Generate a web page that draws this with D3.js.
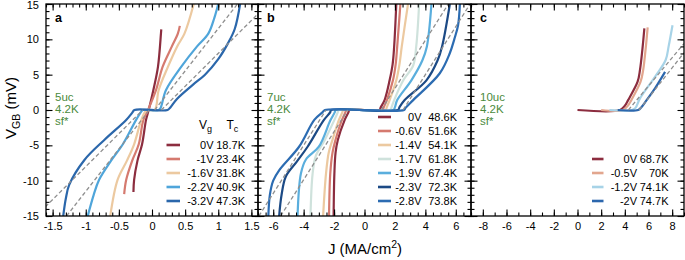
<!DOCTYPE html>
<html>
<head>
<meta charset="utf-8">
<script src="https://cdn.jsdelivr.net/npm/d3@7"></script>
<style>
  body { margin: 0; background: #fff; }
  text { font-family: "Liberation Sans", Arial, sans-serif; }
</style>
</head>
<body>
<svg id="chart" width="685" height="260"></svg>
<script>
// ---- data: J (MA/cm^2), V_GB (mV) ----
var yTicks = [-15, -10, -5, 0, 5, 10, 15];

// panel a, 5uc
var aTicks = [-1.5, -1, -0.5, 0, 0.5, 1, 1.5];
var aVg = ["0V", "-1V", "-1.6V", "-2.2V", "-3.2V"];
var aTc = ["18.7K", "23.4K", "31.8K", "40.9K", "47.3K"];
var aCurves = [
  [[-0.28,-11.6],[-0.27,-9.9],[-0.22,-7.2],[-0.15,-4.85],[-0.09,-1.4],[-0.05,0],[0.02,2.8],[0.09,6.1],[0.135,10.8],[0.14,11.4]],
  [[-0.42,-11.9],[-0.39,-9.9],[-0.3,-7.2],[-0.2,-4.85],[-0.13,-1.4],[-0.06,0],[0.06,2.8],[0.16,6.1],[0.3,9],[0.39,10.8],[0.42,11.9]],
  [[-0.63,-15],[-0.52,-9.9],[-0.38,-7.2],[-0.27,-4.85],[-0.16,-1.4],[-0.08,0],[0.04,0],[0.10,2.8],[0.24,6.1],[0.38,9],[0.49,10.8],[0.63,15]],
  [[-0.97,-15],[-0.88,-12],[-0.80,-9.9],[-0.62,-7.2],[-0.44,-4.85],[-0.24,-1.4],[-0.16,-0.2],[-0.14,0],[0.10,0],[0.13,0.3],[0.21,2.8],[0.44,6.1],[0.68,9],[0.85,10.8],[0.94,13],[1.0,15]],
  [[-1.34,-15],[-1.3,-12.5],[-1.25,-10.6],[-1.02,-7.07],[-0.72,-4.24],[-0.39,-1.41],[-0.3,-0.4],[-0.265,0],[0.235,0],[0.28,0.4],[0.38,1.6],[0.62,3.6],[0.8,5],[1.0,7.2],[1.15,9.5],[1.25,11.5],[1.33,15]]
];
var aFits = [
  [[-1.75,-15],[-0.14,0]], [[0.14,0],[1.75,15]],
  [[-1.29,-15],[-0.04,0]], [[0.04,0],[1.29,15]]
];

// panel b, 7uc
var bTicks = [-6, -4, -2, 0, 2, 4, 6];
var bVg = ["0V", "-0.6V", "-1.4V", "-1.7V", "-1.9V", "-2.3V", "-2.8V"];
var bTc = ["48.6K", "51.6K", "54.1K", "61.8K", "67.4K", "72.3K", "73.8K"];
var bCurves = [
  [[-2.03,-15],[-1.98,-9],[-1.9,-6],[-1.75,-4.2],[-1.32,-1.5],[-1.05,-0.3],[-1.0,0],[1.0,0],[1.05,0.3],[1.32,1.4],[1.65,4.2],[1.85,6.5],[1.95,9],[2.09,15]],
  [[-2.33,-15],[-2.25,-9],[-2.1,-6],[-1.9,-4.2],[-1.5,-1.5],[-1.25,-0.3],[-1.2,0],[1.2,0],[1.25,0.3],[1.47,1.4],[1.87,4.2],[2.05,6.5],[2.15,9],[2.36,15]],
  [[-2.72,-15],[-2.53,-9],[-2.35,-6],[-2.1,-4.2],[-1.7,-1.5],[-1.45,-0.3],[-1.4,0],[1.4,0],[1.45,0.3],[1.65,1.4],[2.09,4.2],[2.3,6.5],[2.45,9],[2.86,15]],
  [[-3.55,-15],[-3.41,-9],[-3.2,-6.5],[-2.6,-4.2],[-2.0,-1.5],[-1.75,-0.3],[-1.7,0],[1.7,0],[1.78,0.4],[1.95,1.4],[2.55,4.2],[3.2,6.3],[3.4,9],[3.59,15]],
  [[-4.4,-15],[-4.18,-9],[-3.85,-7],[-3.0,-5.2],[-2.25,-1.5],[-1.95,-0.3],[-1.9,0],[1.9,0],[2.0,0.4],[2.15,1.4],[3.08,4.2],[3.8,7],[4.1,9],[4.4,15]],
  [[-5.61,-15],[-5.45,-12],[-5.17,-9.4],[-4.45,-7.3],[-3.74,-5.2],[-2.7,-1.5],[-2.25,-0.3],[-2.2,0],[2.2,0],[2.3,0.4],[2.64,1.4],[4.07,4.2],[4.8,7],[5.1,9],[5.61,15]],
  [[-6.32,-15],[-6.22,-12],[-6.0,-10],[-5.6,-8.5],[-4.3,-5.2],[-3.3,-1.4],[-2.75,-0.3],[-2.6,0],[2.6,0],[2.7,0.3],[3.2,1.4],[4.95,5.2],[5.6,8],[5.9,10],[6.15,12],[6.27,15]]
];
var bFits = [
  [[-6.94,-15],[-2.53,0]], [[2.53,0],[6.94,15]],
  [[-5.51,-15],[-1.1,0]], [[1.1,0],[5.51,15]]
];

// panel c, 10uc
var cTicks = [-8, -6, -4, -2, 0, 2, 4, 6, 8];
var cVg = ["0V", "-0.5V", "-1.2V", "-2V"];
var cTc = ["68.7K", "70K", "74.1K", "74.7K"];
var cCurves = [
  [[0,0],[3.6,0],[4.0,0.6],[4.28,1.4],[5.08,4.0],[5.28,5.66],[5.48,8.5],[5.65,11.55]],
  [[2.0,0],[3.85,0],[4.25,0.6],[4.55,1.4],[5.33,4.0],[5.55,5.66],[5.75,8.5],[5.93,11.7]],
  [[2.7,0],[4.6,0],[4.9,0.3],[5.28,1.65],[6.55,4.7],[7.45,7.07],[7.7,9],[8.03,12.0]],
  [[3.4,0],[5.13,0],[5.4,0.4],[5.84,1.4],[6.55,3.07],[7.4,5.4]]
];
var cFits = [
  [[4.3,0],[9.0,9.4]],
  [[5.2,0],[9.0,8.1]]
];

var aColors = ["#8c2d3f", "#d57a6f", "#ecc9a0", "#4fa5da", "#2b67ab"];
var bColors = ["#8c2d3f", "#d57a6f", "#ecc9a0", "#cfe2dc", "#5aaedd", "#1c4a85", "#2c6cb2"];
var cColors = ["#8c2d3f", "#e2a68e", "#a7d3e7", "#2c67ad"];

// ---- layout ----
var panels = [
  {id: "a", left: 46, right: 258, dom: [-1.6, 1.6], ticks: aTicks, minor: 0.1,
   curves: aCurves, colors: aColors, vg: aVg, tc: aTc, fits: aFits, tag: "5uc",
   leg: {x0: 166.5, x1: 180, vgR: 213.5, tcR: 245, top: 145}, header: true},
  {id: "b", left: 258, right: 471, dom: [-7, 7], ticks: bTicks, minor: 0.5,
   curves: bCurves, colors: bColors, vg: bVg, tc: bTc, fits: bFits, tag: "7uc",
   leg: {x0: 378, x1: 391, vgR: 421.5, tcR: 457, top: 117}},
  {id: "c", left: 471, right: 684, dom: [-9, 9], ticks: cTicks, minor: 1,
   curves: cCurves, colors: cColors, vg: cVg, tc: cTc, fits: cFits, tag: "10uc",
   leg: {x0: 592, x1: 603.5, vgR: 637, tcR: 668.5, top: 159}}
];

var svg = d3.select("#chart");
var yTop = 4, yBot = 216;
var y = d3.scaleLinear().domain([-15, 15]).range([yBot, yTop]);
var yMinor = d3.range(-15, 16, 1);

panels.forEach(function(p) {
  var x = d3.scaleLinear().domain(p.dom).range([p.left, p.right]);
  var xMinor = d3.range(Math.round(p.dom[0] / p.minor), Math.round(p.dom[1] / p.minor) + 1)
    .map(function(k) { return Math.round(k * p.minor * 100) / 100; });

  svg.append("clipPath").attr("id", "clip-" + p.id)
    .append("rect").attr("x", p.left).attr("y", yTop)
    .attr("width", p.right - p.left).attr("height", yBot - yTop);

  var plot = svg.append("g").attr("clip-path", "url(#clip-" + p.id + ")");
  var line = d3.line()
    .x(function(d) { return x(d[0]); })
    .y(function(d) { return y(d[1]); })
    .curve(d3.curveCatmullRom.alpha(0.5));

  plot.selectAll("path.curve").data(p.curves).enter().append("path")
    .attr("class", "curve")
    .attr("d", line)
    .attr("fill", "none")
    .attr("stroke", function(d, i) { return p.colors[i]; })
    .attr("stroke-width", 2.2)
    .attr("stroke-linejoin", "round");

  plot.selectAll("path.fit").data(p.fits).enter().append("path")
    .attr("class", "fit")
    .attr("d", d3.line().x(function(d) { return x(d[0]); }).y(function(d) { return y(d[1]); }))
    .attr("fill", "none")
    .attr("stroke", "#8f8f8f")
    .attr("stroke-width", 1.3)
    .attr("stroke-dasharray", "4,2.5");

  // ticks on all four sides, pointing inward
  function ax(gen, tr) {
    var g = svg.append("g").attr("transform", tr).call(gen);
    g.select(".domain").remove();
    g.selectAll("line").attr("stroke", "#000").attr("stroke-width", 1.1);
    g.selectAll("text").attr("font-size", 11).attr("fill", "#000");
    return g;
  }
  ax(d3.axisBottom(x).tickValues(p.ticks).tickSize(-6.5).tickPadding(6)
      .tickFormat(function(d) { return String(d); }), "translate(0," + yBot + ")");
  ax(d3.axisBottom(x).tickValues(xMinor).tickSize(-3.5).tickFormat(""), "translate(0," + yBot + ")");
  ax(d3.axisTop(x).tickValues(p.ticks).tickSize(-6.5).tickFormat(""), "translate(0," + yTop + ")");
  ax(d3.axisTop(x).tickValues(xMinor).tickSize(-3.5).tickFormat(""), "translate(0," + yTop + ")");
  var yl = d3.axisLeft(y).tickValues(yTicks).tickSize(-6.5).tickPadding(7);
  if (p.id === "a") yl.tickFormat(function(d) { return String(d); });
  else yl.tickFormat("");
  var gl = ax(yl, "translate(" + p.left + ",0)");
  gl.selectAll("text").filter(function(d) { return d === 15; }).attr("dy", "0.45em");
  ax(d3.axisLeft(y).tickValues(yMinor).tickSize(-3.5).tickFormat(""), "translate(" + p.left + ",0)");
  ax(d3.axisRight(y).tickValues(yTicks).tickSize(-6.5).tickFormat(""), "translate(" + p.right + ",0)");
  ax(d3.axisRight(y).tickValues(yMinor).tickSize(-3.5).tickFormat(""), "translate(" + p.right + ",0)");

  svg.append("rect")
    .attr("x", p.left).attr("y", yTop)
    .attr("width", p.right - p.left).attr("height", yBot - yTop)
    .attr("fill", "none").attr("stroke", "#000").attr("stroke-width", 1.3);

  // panel letter and sample label
  svg.append("text").attr("x", p.left + 9).attr("y", 22)
    .attr("font-size", 12.5).attr("font-weight", "bold").text(p.id);
  var tag = svg.append("text").attr("fill", "#4a8a3c").attr("font-size", 11.5);
  [p.tag, "4.2K", "sf*"].forEach(function(t, i) {
    tag.append("tspan").attr("x", p.left + 9).attr("y", 101 + i * 12).text(t);
  });

  // legend
  var L = p.leg, rowH = 14;
  if (p.header) {
    var h = svg.append("text").attr("font-size", 12).attr("y", L.top - 16);
    h.append("tspan").attr("x", 199).text("V");
    h.append("tspan").attr("dy", 3).attr("font-size", 9).text("g");
    h.append("tspan").attr("x", 226.5).attr("dy", -3).text("T");
    h.append("tspan").attr("dy", 3).attr("font-size", 9).text("c");
  }
  var rows = svg.append("g").selectAll("g").data(p.vg).enter().append("g")
    .attr("transform", function(d, i) { return "translate(0," + (L.top + i * rowH) + ")"; });
  rows.append("line").attr("x1", L.x0).attr("x2", L.x1)
    .attr("stroke", function(d, i) { return p.colors[i]; }).attr("stroke-width", 2.6);
  rows.append("text").attr("x", L.vgR).attr("y", 4).attr("text-anchor", "end")
    .attr("font-size", 11).text(function(d) { return d; });
  rows.append("text").attr("x", L.tcR).attr("y", 4).attr("text-anchor", "end")
    .attr("font-size", 11).text(function(d, i) { return p.tc[i]; });
});

// axis titles
var yt = svg.append("text").attr("transform", "translate(16,108) rotate(-90)")
  .attr("text-anchor", "middle").attr("font-size", 15);
yt.append("tspan").text("V");
yt.append("tspan").attr("dy", 4).attr("font-size", 10.5).text("GB");
yt.append("tspan").attr("dy", -4).text(" (mV)");

var xt = svg.append("text").attr("x", 365).attr("y", 254)
  .attr("text-anchor", "middle").attr("font-size", 15);
xt.append("tspan").text("J (MA/cm");
xt.append("tspan").attr("dy", -6).attr("font-size", 10.5).text("2");
xt.append("tspan").attr("dy", 6).text(")");
</script>
</body>
</html>
